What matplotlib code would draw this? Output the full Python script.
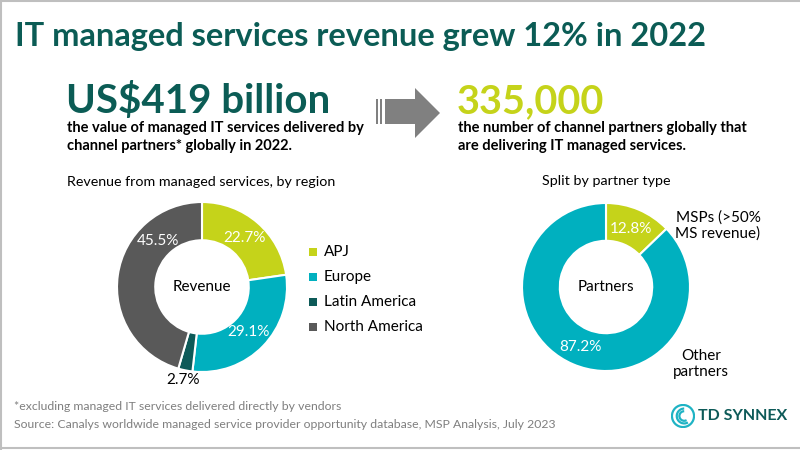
import numpy as np
import matplotlib.pyplot as plt
from matplotlib.patches import Polygon, Rectangle, Arc

# data
regions = ['APJ', 'Europe', 'Latin America', 'North America']
region_share = [22.7, 29.1, 2.7, 45.5]
region_colors = ['#c5d31a', '#00b0bf', '#0d5a58', '#595959']

partner_types = ['MSPs (>50%\nMS revenue)', 'Other\npartners']
partner_share = [12.8, 87.2]
partner_colors = ['#c5d31a', '#00b0bf']

TEAL = '#0b5c55'
LIME = '#c5d31a'
GREY = '#7f7f7f'
W, H = 800, 450

plt.rcParams['font.family'] = ['Lato', 'DejaVu Sans']

fig = plt.figure(figsize=(8, 4.5), dpi=100)


def px(x, y):
    return x / W, 1 - y / H


def text(x, y, s, **kw):
    fig.text(*px(x, y), s, **kw)


def donut_axes(cx, cy, r):
    return fig.add_axes([(cx - r) / W, 1 - (cy + r) / H, 2 * r / W, 2 * r / H])


def fix_axes(ax):
    ax.set_xlim(-1, 1)
    ax.set_ylim(-1, 1)
    ax.set_aspect('equal')
    ax.axis('off')


def label_at(ax, wedge, s, r, color, angle=None, size=11):
    if angle is None:
        angle = (wedge.theta1 + wedge.theta2) / 2
    a = np.deg2rad(angle)
    ax.text(r * np.cos(a), r * np.sin(a), s, ha='center', va='center',
            color=color, fontsize=size)


# frame
fig.add_artist(plt.Line2D([0.0015, 0.0015], [0, 1], color='#bfbfbf', lw=1.5))
fig.add_artist(plt.Line2D([0, 1], [0.998, 0.998], color='#bfbfbf', lw=1.5))
fig.add_artist(plt.Line2D([0, 1], [0.004, 0.004], color='#bfbfbf', lw=1.5))

# headline block
text(15, 46, 'IT managed services revenue grew 12% in 2022', color=TEAL,
     fontsize=23.5, fontweight='bold', va='baseline')
text(66, 113, 'US$419 billion', color=TEAL, fontsize=29, fontweight='bold',
     va='baseline')
text(67, 137, 'the value of managed IT services delivered by\nchannel partners* globally in 2022.',
     fontsize=10.5, fontweight='bold', va='center', linespacing=1.3)
text(457, 113, '335,000', color=LIME, fontsize=28.5, fontweight='bold',
     va='baseline')
text(458, 137, 'the number of channel partners globally that\nare delivering IT managed services.',
     fontsize=10.5, fontweight='bold', va='center', linespacing=1.3)

# arrow
arrow_pts = [(385, 99), (415, 99), (415, 88), (440, 113), (415, 138),
             (415, 124), (385, 124)]
fig.add_artist(Polygon([px(*p) for p in arrow_pts], closed=True,
                       transform=fig.transFigure, color='#808080', lw=0))
for x0 in (376, 380):
    fig.add_artist(Rectangle(px(x0, 124), 2 / W, 25 / H,
                             transform=fig.transFigure, color='#808080', lw=0))

# left donut
text(201, 182, 'Revenue from managed services, by region', fontsize=10.3,
     ha='center', va='center')
ax1 = donut_axes(202, 287, 85)
w1, _ = ax1.pie(region_share, colors=region_colors, startangle=90,
                counterclock=False, radius=1,
                wedgeprops=dict(width=0.45, edgecolor='white', linewidth=1.5))
fix_axes(ax1)
label_at(ax1, w1[0], '22.7%', 0.76, 'white')
label_at(ax1, w1[1], '29.1%', 0.76, 'white')
label_at(ax1, w1[2], '2.7%', 1.11, 'black')
label_at(ax1, w1[3], '45.5%', 0.75, 'white', angle=134)
ax1.text(0, 0, 'Revenue', ha='center', va='center', fontsize=11)

# legend
for i, (name, col) in enumerate(zip(regions, region_colors)):
    y = 252 + i * 25
    fig.add_artist(Rectangle(px(309, y + 4), 8 / W, 8 / H,
                             transform=fig.transFigure, color=col, lw=0))
    text(324, y, name, fontsize=11, va='center')

# right donut
text(606, 181, 'Split by partner type', fontsize=10.3, ha='center', va='center')
ax2 = donut_axes(606, 287, 84)
w2, _ = ax2.pie(partner_share, colors=partner_colors, startangle=90,
                counterclock=False, radius=1,
                wedgeprops=dict(width=0.45, edgecolor='white', linewidth=1.5))
fix_axes(ax2)
label_at(ax2, w2[0], '12.8%', 0.75, 'white')
label_at(ax2, w2[1], '87.2%', 0.77, 'white')
ax2.text(0, 0, 'Partners', ha='center', va='center', fontsize=11)
text(718, 226, partner_types[0], fontsize=11, ha='center', va='center',
     linespacing=1.15)
text(701, 364, partner_types[1], fontsize=11, ha='center', va='center',
     linespacing=1.15)

# footer
text(14, 407, '*excluding managed IT services delivered directly by vendors',
     fontsize=8.8, color=GREY, va='center')
text(14, 424, 'Source: Canalys worldwide managed service provider opportunity database, MSP Analysis, July 2023',
     fontsize=8.8, color=GREY, va='center')

# logo
logo_ax = fig.add_axes([671 / W, 1 - 428 / H, 24 / W, 24 / H])
logo_ax.set_xlim(-1, 1)
logo_ax.set_ylim(-1, 1)
logo_ax.set_aspect('equal')
logo_ax.axis('off')
logo_ax.add_patch(plt.Circle((0, 0), 0.92, fill=False, color='#1fb3c4', lw=1.6))
for r in (0.62, 0.4):
    logo_ax.add_patch(Arc((0.1, 0), 2 * r, 2 * r, theta1=90, theta2=300,
                          color='#1fb3c4', lw=1.6))
text(698, 416, 'TD SYNNEX', fontsize=11.5, fontweight='bold', color='#0d5a58',
     va='center')

fig.savefig('out.png', dpi=100)
